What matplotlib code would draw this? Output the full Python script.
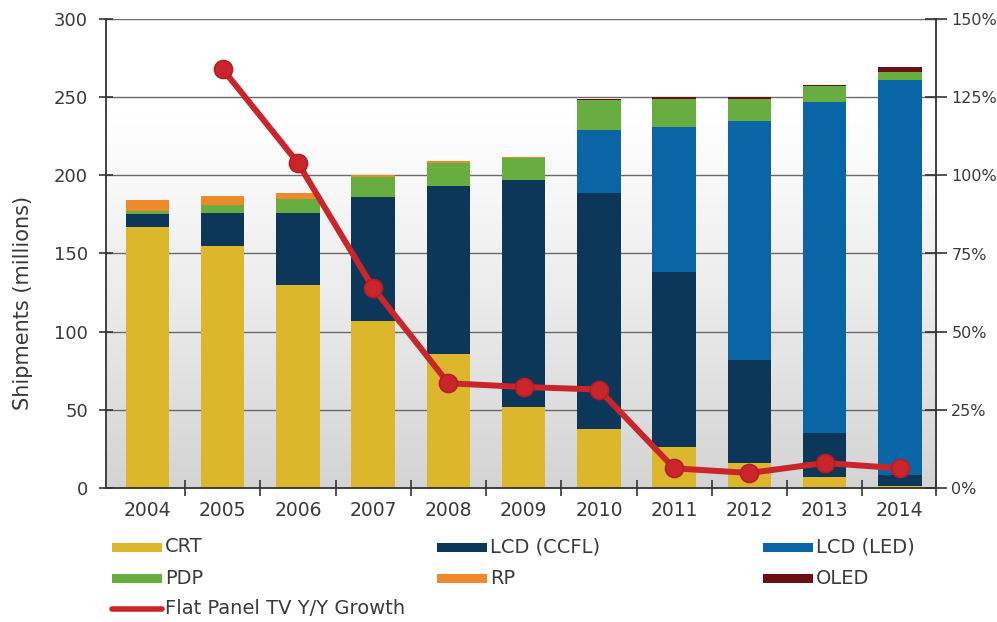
import numpy as np
import matplotlib
matplotlib.use("Agg")
import matplotlib.pyplot as plt
from matplotlib.patches import Rectangle
from matplotlib.lines import Line2D

years = ["2004", "2005", "2006", "2007", "2008", "2009", "2010", "2011", "2012", "2013", "2014"]
crt = [167, 155, 130, 107, 86, 52, 38, 26, 16, 7, 1]
lcd_ccfl = [8, 21, 46, 79, 107, 145, 151, 112, 66, 28, 7]
lcd_led = [0, 0, 0, 0, 0, 0, 40, 93, 153, 212, 253]
pdp = [2, 5, 9, 13, 15, 14, 19, 18, 14, 10, 5]
rp = [7, 6, 4, 1, 1, 1, 0, 0, 0, 0, 0]
oled = [0, 0, 0, 0, 0, 0, 1, 1, 1, 1, 3]
growth_years = ["2005", "2006", "2007", "2008", "2009", "2010", "2011", "2012", "2013", "2014"]
growth = [134, 104, 64, 33.5, 32.3, 31.5, 6.3, 4.8, 8, 6.3]

series = [
    ("CRT", crt, "#DDB72B"),
    ("LCD (CCFL)", lcd_ccfl, "#0C3758"),
    ("LCD (LED)", lcd_led, "#0A65A6"),
    ("PDP", pdp, "#68AD3F"),
    ("RP", rp, "#EE8A2C"),
    ("OLED", oled, "#6A1014"),
]
line_color = "#C9252B"
txt = "#3a3a3a"

fig = plt.figure(figsize=(9.97, 6.22), dpi=100)
ax = fig.add_axes([106/997, 1-488/622, (936-106)/997, (488-19)/622])

x = np.arange(len(years))
xlo, xhi = -0.55, len(years) - 1 + 0.48
ax.set_xlim(xlo, xhi)
ax.set_ylim(0, 300)

# vertical gradient background (white at top, light grey at bottom)
t = np.linspace(0, 1, 256)  # 0 = top, 1 = bottom
vals = 1 - 0.17 * np.clip((t - 0.2) / 0.8, 0, 1) ** 1.1
img = np.repeat(vals[:, None], 2, axis=1)
img = np.dstack([img, img, img])
ax.imshow(img, extent=[xlo, xhi, 0, 300], origin="upper", aspect="auto", zorder=0)

for yv in range(50, 301, 50):
    ax.axhline(yv, color="#6a6a6a", lw=1.0, zorder=1)

bottom = np.zeros(len(years))
for name, vals_s, col in series:
    ax.bar(x, vals_s, width=0.58, bottom=bottom, color=col, zorder=2, linewidth=0)
    bottom += np.array(vals_s)

ax2 = ax.twinx()
ax2.set_ylim(0, 150)
gx = [years.index(g) for g in growth_years]
ax2.plot(gx, growth, color=line_color, lw=4.3, marker="o", markersize=13,
         markerfacecolor=line_color, markeredgecolor="#B51E25", markeredgewidth=1.2,
         zorder=5, solid_joinstyle="round", solid_capstyle="round")
ax2.set_xlim(xlo, xhi)

# axes styling
ax.spines["top"].set_visible(False)
ax2.spines["top"].set_visible(False)
ax.spines["right"].set_visible(False)
ax2.spines["left"].set_visible(False)
ax2.spines["bottom"].set_visible(False)
for sp in [ax.spines["left"], ax.spines["bottom"], ax2.spines["right"]]:
    sp.set_color("#333333")
    sp.set_linewidth(1.3)

ax.set_yticks(range(0, 301, 50))
ax.tick_params(axis="y", direction="inout", length=10, width=1.2, color="#333333",
               labelsize=13, labelcolor=txt, pad=8)
ax.set_xticks(x)
ax.set_xticklabels(years, fontsize=13.5, color=txt)
ax.tick_params(axis="x", which="major", length=0, pad=9)
ax.set_xticks([i + 0.5 for i in range(len(years) - 1)] + [xhi], minor=True)
ax.tick_params(axis="x", which="minor", direction="inout", length=12, width=1.2, color="#333333")

ax2.set_yticks(range(0, 151, 25))
ax2.set_yticklabels([f"{v}%" for v in range(0, 151, 25)])
ax2.tick_params(axis="y", direction="inout", length=16, width=1.2, color="#333333",
                labelsize=11.5, labelcolor=txt, pad=3)

ax.set_ylabel("Shipments (millions)", fontsize=15, color=txt)
ax.yaxis.set_label_coords(-0.088, 0.394)

# legend (manual, 3 columns)
W, H = 997, 622
def fx(px):
    return px / W
def fy(py):
    return 1 - py / H

legend_items = [
    ("CRT", "#DDB72B", 112, 547),
    ("LCD (CCFL)", "#0C3758", 437, 547),
    ("LCD (LED)", "#0A65A6", 763, 547),
    ("PDP", "#68AD3F", 112, 578),
    ("RP", "#EE8A2C", 437, 578),
    ("OLED", "#6A1014", 763, 578),
]
for label, col, px, py in legend_items:
    fig.patches.append(Rectangle((fx(px), fy(py + 4.5)), 50 / W, 9 / H, transform=fig.transFigure,
                                 facecolor=col, edgecolor="none"))
    fig.text(fx(px + 53), fy(py), label, fontsize=14, color=txt,
             va="center", ha="left")
fig.lines.append(Line2D([fx(112), fx(162)], [fy(609), fy(609)], transform=fig.transFigure,
                        color=line_color, lw=4, solid_capstyle="round"))
fig.text(fx(165), fy(609), "Flat Panel TV Y/Y Growth", fontsize=14,
         color=txt, va="center", ha="left")

fig.savefig("out.png", dpi=100)
